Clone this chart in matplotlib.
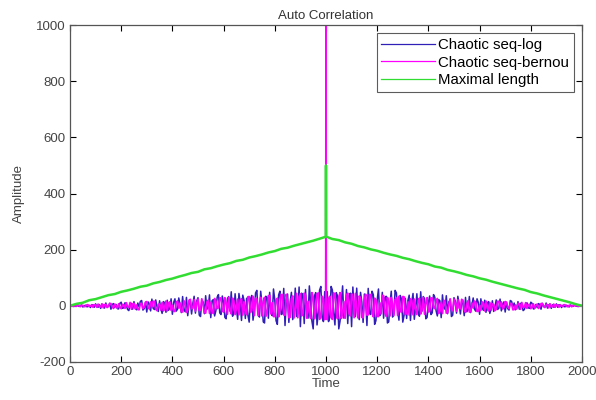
import numpy as np
import matplotlib
matplotlib.use("Agg")
import matplotlib.pyplot as plt

plt.rcParams['font.family'] = ['Liberation Sans', 'DejaVu Sans']
plt.rcParams['axes.unicode_minus'] = False

# lags for the two chaotic sequences (step 5, plus the zero-shift peak at 1000)
lag_chaos = np.concatenate([np.arange(0, 1000, 5), [999, 1000, 1001], np.arange(1005, 2001, 5)])

chaotic_log = [
    0, -1, 2, 1, -1, -2, 3, -2, 1, 3, -4, 0, 2, -3, -3, 2, -6, 3, 4, -5,
    7, -3, -5, 4, -9, 6, 3, -8, 10, -4, -2, 9, -12, 5, 8, -6, 5, -10, -11, 9,
    13, -9, -7, 11, 2, -13, -17, 6, 9, -12, 15, -8, -14, 10, -4, 16, 19, -15, -10, 12,
    -22, 14, 6, -18, 24, -9, -13, 21, -3, -20, 18, -11, -27, 15, 11, -23, 20, -16, -8, 25,
    -30, 12, 25, -19, -12, 28, 4, -24, 33, -15, -21, 30, -35, 8, 16, -29, 9, 34, -26, 17,
    29, -33, -38, 20, 14, -28, 36, -12, -6, 39, -42, 18, 22, -36, -17, 31, 40, -25, -31, 35,
    11, -41, -46, 26, 33, -19, 50, -37, -24, 43, -9, -48, 44, 13, -52, 38, 19, -45, 27, -33,
    -58, 24, 37, -51, -15, 46, 55, -29, -40, 52, 8, -57, -61, 34, 30, -44, 48, -20, -35, 60,
    21, -53, -66, 39, 52, -31, -28, 62, -70, 17, 42, -59, 14, 48, -49, -27, 63, -38, -18, 67,
    -74, 45, 35, -63, 58, -22, -44, 71, 12, -54, -82, 36, 47, -68, -25, 56, 69, -41, -56, 50,
    30, 1000, 30,
    50, -56, -41, 69, 56, -25, -68, 47, 36, -82, -54, 12, 71, -44, -22, 58, -63, 35, 45, -74,
    67, -18, -38, 63, -27, -49, 48, 14, -59, 42, 17, -70, 62, -28, -31, 52, 39, -66, -53, 21,
    60, -35, -20, 48, -44, 30, 34, -61, -57, 8, 52, -40, -29, 55, 46, -15, -51, 37, 24, -58,
    -33, 27, -45, 19, 38, -52, 13, 44, -48, -9, 43, -24, -37, 50, -19, 33, 26, -46, -41, 11,
    35, -31, -25, 40, 31, -17, -36, 22, 18, -42, 39, -6, -12, 36, -28, 14, 20, -38, -33, 29,
    17, -26, 34, 9, -29, 16, 8, -35, 30, -21, -15, 33, -24, 4, 28, -12, -19, 25, 12, -30,
    25, -8, -16, 20, -23, 11, 15, -27, -11, 18, -20, -3, 21, -13, -9, 24, -18, 6, 14, -22,
    12, -10, -15, 19, 16, -4, 10, -14, -8, 15, -12, 9, 6, -17, -13, 2, 11, -7, -9, 13,
    9, -11, -10, 5, -6, 8, 5, -12, 9, -2, -4, 10, -8, 3, 6, -9, 4, -5, -3, 7,
    -5, 4, 3, -6, 2, -3, -3, 2, 0, -4, 3, 1, -2, 3, 1, -1, -2, 2, -1, 0,
]

chaotic_bernou = [
    0, 1, -1, -2, 2, -1, 1, 2, -3, 1, 2, -3, -2, 3, 4, -2, -1, 4, -5, 3,
    3, -5, 6, -2, -4, 7, -7, 4, 5, -6, -2, 8, 8, -4, -9, 6, 1, -8, 7, -3,
    -10, 5, 4, -9, 11, -3, -6, 12, -12, 7, 9, -11, 3, -13, -14, 8, 8, -10, -5, 13,
    15, -7, -11, 14, -3, 16, 16, -12, -17, 4, 7, -15, 12, -18, -9, 17, -18, 10, 14, -16,
    2, -19, -20, 13, 17, -8, 10, -21, -22, 18, 6, -23, -15, 20, 23, -11, -8, 22, -19, 9,
    24, -17, -13, 25, 5, -24, -26, 14, 20, -27, 12, -21, -27, 26, 16, -10, -6, 28, 28, -19,
    -22, 29, 9, -30, 30, -14, -29, 27, 18, -31, -11, 24, -32, 20, 25, -33, 14, -26, -31, 32,
    33, -23, -18, 34, -34, 28, 22, -35, 7, 30, -36, 15, 30, -37, -24, 36, 37, -29, 11, -38,
    -38, 21, 27, -39, -14, 40, 40, -32, -33, 41, 19, -42, -41, 26, 35, -43, -9, 44, -42, 33,
    43, -36, -28, 45, 38, -44, 16, -25, -45, 47, 31, -46, -22, 42, 46, -48, -40, 34, 25, -49,
    -40, 1000, -40,
    -49, 25, 34, -40, -48, 46, 42, -22, -46, 31, 47, -45, -25, 16, -44, 38, 45, -28, -36, 43,
    33, -42, 44, -9, -43, 35, 26, -41, -42, 19, 41, -33, -32, 40, 40, -14, -39, 27, 21, -38,
    -38, 11, -29, 37, 36, -24, -37, 30, 15, -36, 30, 7, -35, 22, 28, -34, 34, -18, -23, 33,
    32, -31, -26, 14, -33, 25, 20, -32, 24, -11, -31, 18, 27, -29, -14, 30, -30, 9, 29, -22,
    -19, 28, 28, -6, -10, 16, 26, -27, -21, 12, -27, 20, 14, -26, -24, 5, 25, -13, -17, 24,
    9, -19, 22, -8, -11, 23, 20, -15, -23, 6, 18, -22, -21, 10, -8, 17, 13, -20, -19, 2,
    -16, 14, 10, -18, 17, -9, -18, 12, -15, 7, 4, -17, -12, 16, 16, -3, 14, -11, -7, 15,
    13, -5, -10, 8, 8, -14, -13, 3, -11, 9, 7, -12, 12, -6, -3, 11, -9, 4, 5, -10,
    -3, 7, -8, 1, 6, -9, -4, 8, 8, -2, -6, 5, 4, -7, 7, -4, -2, 6, -5, 3,
    3, -5, 4, -1, -2, 4, 3, -2, -3, 2, 1, -3, 2, 1, -1, 2, -2, -1, 1, 0,
]

# maximal length sequence, step 25
lag_ml = np.concatenate([np.arange(0, 1000, 25), [999, 1000, 1001], np.arange(1025, 2001, 25)])
maximal_length = [
    0, 7, 11, 20, 24, 31, 38, 42, 50, 55, 61, 68, 72, 80, 85, 92, 97, 104, 110, 117,
    121, 130, 134, 141, 147, 152, 160, 164, 172, 177, 183, 190, 195, 203, 207, 214, 220, 226, 232, 239,
    246, 500, 246,
    238, 234, 226, 221, 213, 208, 201, 196, 189, 183, 178, 171, 166, 159, 153, 148, 140, 136, 128, 123,
    117, 110, 105, 98, 93, 86, 80, 74, 68, 62, 57, 49, 44, 37, 31, 25, 19, 13, 6, 0,
]

fig = plt.figure(figsize=(5.96, 4.0), dpi=100)
ax = fig.add_axes([0.1174, 0.095, 0.8591, 0.8425])

ax.plot(lag_chaos, chaotic_log, color='#3020b8', lw=1.1, label='Chaotic seq-log')
ax.plot(lag_chaos, chaotic_bernou, color='#ff00ff', lw=1.3, label='Chaotic seq-bernou')
ax.plot(lag_ml, maximal_length, color='#30dd30', lw=1.8, label='Maximal length')

ax.set_xlim(0, 2000)
ax.set_ylim(-200, 1000)
ax.set_xticks(np.arange(0, 2001, 200))
ax.set_yticks(np.arange(-200, 1001, 200))
ax.tick_params(direction='in', top=True, right=True, labelsize=9.5,
               labelcolor='#444444', length=4, width=0.8, pad=3)
for s in ax.spines.values():
    s.set_color('#555555')
    s.set_linewidth(0.9)

ax.set_title('Auto Correlation', fontsize=9.5, color='#333333', pad=4)
ax.set_xlabel('Time', fontsize=9.5, color='#444444', labelpad=0)
ax.set_ylabel('Amplitude', fontsize=9.5, color='#444444', labelpad=8)

leg = ax.legend(loc='upper right', fontsize=10.8, handlelength=3.6, frameon=True,
                fancybox=False, borderaxespad=0.55, borderpad=0.3, labelspacing=0.25,
                handletextpad=0.2)
leg.get_frame().set_edgecolor('#333333')
leg.get_frame().set_linewidth(0.8)
for line in leg.get_lines():
    line.set_linewidth(0.9)

fig.savefig('out.png', dpi=100)
